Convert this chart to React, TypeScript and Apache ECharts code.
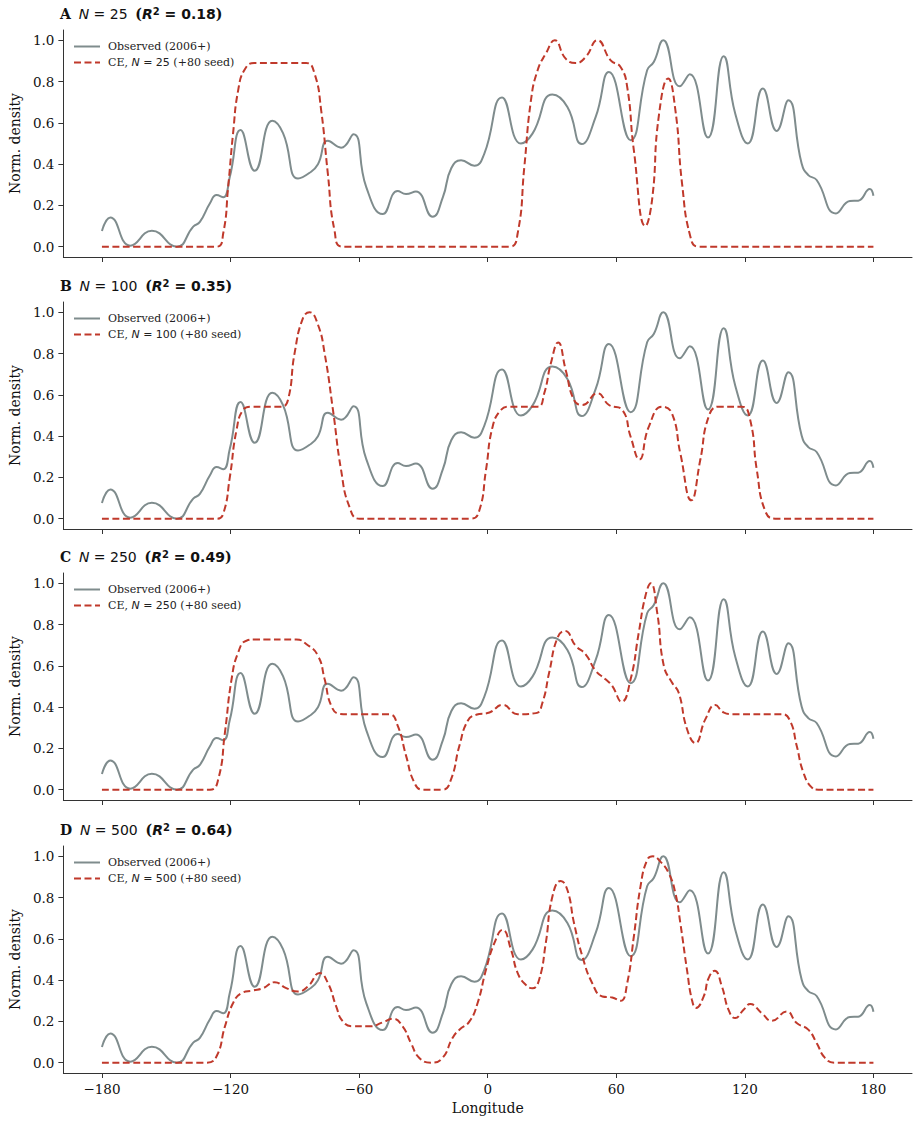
import React, { useEffect, useRef } from "react";
import * as echarts from "echarts";

// Observed normalized density (2006+), [longitude, value]
const OBSERVED: [number, number][] = [
  [-180, 0.076], [-176.1, 0.142], [-166.8, 0.005], [-156.7, 0.077], [-145.1, 0.0],
  [-137.4, 0.097], [-134.3, 0.12], [-129.6, 0.21], [-126.5, 0.25], [-123.4, 0.24],
  [-120.3, 0.34], [-115.3, 0.565], [-108.7, 0.368], [-100.5, 0.61], [-95.5, 0.55],
  [-88.5, 0.33], [-83.1, 0.358], [-79.2, 0.4], [-74.6, 0.513], [-68.4, 0.48],
  [-62.6, 0.545], [-56.7, 0.29], [-49.0, 0.158], [-42.0, 0.27], [-38.1, 0.255],
  [-33.5, 0.268], [-25.7, 0.145], [-20.9, 0.24], [-17.0, 0.38], [-12.4, 0.419],
  [-6.2, 0.392], [-1.6, 0.45], [6.7, 0.723], [15.5, 0.5], [20.9, 0.548],
  [30.2, 0.737], [37.2, 0.677], [43.9, 0.497], [50.4, 0.629], [56.6, 0.847],
  [66.7, 0.516], [74.4, 0.855], [77.5, 0.895], [81.9, 1.0], [89.6, 0.777],
  [94.3, 0.835], [102.8, 0.529], [110.1, 0.923], [115.5, 0.645], [121.4, 0.5],
  [128.4, 0.766], [134.9, 0.561], [140.3, 0.71], [146.5, 0.403], [149.6, 0.347],
  [153.5, 0.323], [162.5, 0.161], [169.0, 0.221], [172.9, 0.223], [178.3, 0.279],
  [180, 0.247],
];

const CE_N25: [number, number][] = [
  [-180, 0], [-126.5, 0], [-123.4, 0.065], [-121.1, 0.29], [-118.8, 0.55],
  [-116.4, 0.76], [-113.3, 0.86], [-109, 0.89], [-84.7, 0.89], [-80.8, 0.839],
  [-77.7, 0.661], [-74.6, 0.355], [-71.5, 0.08], [-67.6, 0], [10.1, 0],
  [14.0, 0.065], [17.1, 0.387], [20.2, 0.71], [23.3, 0.855], [27.1, 0.935],
  [31.3, 1.0], [36.4, 0.911], [41.1, 0.89], [45.7, 0.919], [51.2, 1.0],
  [57.4, 0.903], [62.0, 0.871], [65.1, 0.774], [68.2, 0.468], [73.6, 0.1],
  [76.7, 0.226], [79.8, 0.629], [84.2, 0.815], [87.6, 0.661], [90.7, 0.306],
  [94.6, 0.048], [98.4, 0], [180, 0],
];

const CE_N100: [number, number][] = [
  [-180, 0], [-126.5, 0], [-123.4, 0.024], [-120.3, 0.203], [-117.2, 0.43],
  [-114.1, 0.527], [-110.2, 0.543], [-96.3, 0.543], [-93.2, 0.575], [-90.1, 0.802],
  [-86.2, 0.972], [-83.1, 1.0], [-79.2, 0.94], [-76.1, 0.802], [-72.2, 0.527],
  [-68.4, 0.235], [-64.5, 0.057], [-59.8, 0], [-7.8, 0], [-3.9, 0.04],
  [-0.8, 0.235], [2.3, 0.446], [6.2, 0.527], [10.1, 0.543], [23.3, 0.543],
  [26.4, 0.608], [29.5, 0.754], [32.9, 0.854], [36.4, 0.721], [40.3, 0.575],
  [44.2, 0.551], [51.2, 0.608], [56.6, 0.551], [62.8, 0.527], [66.7, 0.397],
  [70.8, 0.287], [75.2, 0.446], [81.4, 0.543], [86.0, 0.51], [89.9, 0.316],
  [95.0, 0.089], [99.2, 0.284], [103.1, 0.494], [107.8, 0.543], [118.6, 0.543],
  [122.5, 0.478], [125.6, 0.235], [129.4, 0.04], [134.1, 0], [180, 0],
];

const CE_N250: [number, number][] = [
  [-180, 0], [-129.6, 0], [-125.7, 0.052], [-122.6, 0.278], [-119.5, 0.536],
  [-116.4, 0.666], [-112.6, 0.722], [-108, 0.728], [-89.3, 0.728], [-84.7, 0.706],
  [-79.2, 0.649], [-76.1, 0.536], [-73.0, 0.407], [-69.1, 0.367], [-65, 0.365],
  [-45.9, 0.365], [-42.0, 0.31], [-38.1, 0.165], [-34.3, 0.036], [-30.4, 0],
  [-21, 0], [-17.1, 0.05], [-13.2, 0.213], [-9.3, 0.334], [-5.4, 0.363],
  [0.8, 0.374], [7.0, 0.411], [14.0, 0.366], [22.5, 0.371], [25.6, 0.423],
  [28.7, 0.568], [32.6, 0.737], [36.1, 0.769], [41.1, 0.697], [45.7, 0.656],
  [50.4, 0.576], [55.0, 0.535], [58.1, 0.503], [62.5, 0.426], [66.7, 0.535],
  [70.5, 0.761], [73.6, 0.939], [76.1, 1.0], [79.1, 0.858], [82.2, 0.6],
  [86.0, 0.519], [89.1, 0.471], [93.0, 0.294], [96.9, 0.226], [101.6, 0.342],
  [106.2, 0.41], [110, 0.375], [114.0, 0.366], [137.2, 0.366], [141.1, 0.334],
  [144.2, 0.213], [147.3, 0.084], [151.2, 0.011], [154.3, 0], [180, 0],
];

const CE_N500: [number, number][] = [
  [-180, 0], [-131.2, 0], [-126.5, 0.031], [-122.6, 0.176], [-118.8, 0.289],
  [-114.9, 0.337], [-109.5, 0.35], [-104.8, 0.361], [-99.4, 0.39], [-94.0, 0.361],
  [-88.5, 0.345], [-83.9, 0.369], [-78.4, 0.434], [-74.5, 0.385], [-70.7, 0.273],
  [-67.6, 0.2], [-62.9, 0.176], [-55.2, 0.176], [-49.0, 0.195], [-44.3, 0.213],
  [-39.7, 0.176], [-35.8, 0.095], [-31.9, 0.023], [-26.5, 0], [-21.1, 0.023],
  [-16.4, 0.12], [-13.2, 0.16], [-8.5, 0.2], [-4.7, 0.289], [-0.8, 0.45],
  [3.1, 0.579], [7.0, 0.644], [10.9, 0.547], [14.0, 0.434], [17.8, 0.377],
  [20.9, 0.361], [24.0, 0.402], [27.1, 0.579], [30.2, 0.805], [34.1, 0.881],
  [37.2, 0.837], [40.3, 0.676], [44.2, 0.515], [48.8, 0.385], [53.5, 0.321],
  [58.1, 0.316], [62.0, 0.3], [65.1, 0.385], [68.2, 0.611], [71.3, 0.853],
  [74.4, 0.982], [77.1, 1.0], [80.6, 0.974], [84.5, 0.918], [87.6, 0.821],
  [89.9, 0.676], [93.0, 0.45], [95.3, 0.305], [97.2, 0.265], [100.8, 0.321],
  [103.1, 0.41], [105.9, 0.445], [109.3, 0.369], [112.4, 0.256], [115.5, 0.216],
  [119.4, 0.256], [122.5, 0.284], [127.9, 0.24], [132.6, 0.203], [139.5, 0.248],
  [144.2, 0.192], [149.6, 0.16], [153.5, 0.095], [157.4, 0.023], [162.0, 0],
  [180, 0],
];

const PANEL_LETTERS = ["A", "B", "C", "D"];
const PANEL_N = [25, 100, 250, 500];
const PANEL_R2 = ["0.18", "0.35", "0.49", "0.64"];
const CE_SERIES = [CE_N25, CE_N100, CE_N250, CE_N500];

const X_TICKS = [-180, -120, -60, 0, 60, 120, 180];
const Y_TICKS = [0, 0.2, 0.4, 0.6, 0.8, 1.0];

const OBS_NAME = "Observed (2006+)";
const SERIF = "DejaVu Serif";
const SANS = "DejaVu Sans";
const GRAY = "#7f8c8d";
const RED = "#c0392b";
const AXIS = "#333333";

const GRID_TOPS = [30, 302, 573, 846];
const GRID_H = 227;

export default function App() {
  const ref = useRef<HTMLDivElement>(null);
  useEffect(() => {
    const chart = echarts.init(ref.current!, null, { renderer: "svg" });
    const ceName = (n: number) => `CE, N = ${n} (+80 seed)`;

    const grids = GRID_TOPS.map((t) => ({ left: 60, right: 6, top: t, height: GRID_H }));

    const xAxes = GRID_TOPS.map((_, i) => ({
      type: "value",
      gridIndex: i,
      min: -198,
      max: 198,
      name: i === 3 ? "Longitude" : "",
      nameLocation: "middle",
      nameGap: 28,
      nameTextStyle: { fontFamily: SERIF, fontSize: 14, color: "#111" },
      axisLine: { show: true, onZero: false, lineStyle: { color: AXIS, width: 1 } },
      axisTick: { show: true, length: 5, customValues: X_TICKS, lineStyle: { color: AXIS } },
      axisLabel: {
        show: i === 3,
        customValues: X_TICKS,
        margin: 9,
        fontFamily: SERIF,
        fontSize: 13.5,
        color: "#111",
        formatter: (v: number) => (v < 0 ? "\u2212" + Math.abs(v) : String(v)),
      },
      splitLine: { show: false },
    }));

    const yAxes = GRID_TOPS.map((_, i) => ({
      type: "value",
      gridIndex: i,
      min: -0.05,
      max: 1.05,
      name: "Norm. density",
      nameLocation: "middle",
      nameGap: 39,
      nameTextStyle: { fontFamily: SERIF, fontSize: 14, color: "#111" },
      axisLine: { show: true, onZero: false, lineStyle: { color: AXIS, width: 1 } },
      axisTick: { show: true, length: 5, customValues: Y_TICKS, lineStyle: { color: AXIS } },
      axisLabel: {
        customValues: Y_TICKS,
        margin: 9,
        fontFamily: SERIF,
        fontSize: 13.5,
        color: "#111",
        formatter: (v: number) => v.toFixed(1),
      },
      splitLine: { show: false },
    }));

    const series: any[] = [];
    GRID_TOPS.forEach((_, i) => {
      series.push({
        type: "line",
        name: OBS_NAME,
        xAxisIndex: i,
        yAxisIndex: i,
        data: OBSERVED,
        smooth: 0.5,
        symbol: "none",
        lineStyle: { color: GRAY, width: 2 },
        itemStyle: { color: GRAY },
        z: 2,
      });
      series.push({
        type: "line",
        name: ceName(PANEL_N[i]),
        xAxisIndex: i,
        yAxisIndex: i,
        data: CE_SERIES[i],
        smooth: 0.5,
        symbol: "none",
        lineStyle: { color: RED, width: 2, type: [7, 3.5] },
        itemStyle: { color: RED },
        z: 3,
      });
    });

    const legendRich = {
      t: { fontFamily: SERIF, fontSize: 11, color: "#222" },
      i: { fontFamily: SANS, fontSize: 11, fontStyle: "italic", color: "#222" },
      m: { fontFamily: SANS, fontSize: 11, color: "#222" },
    };

    const legends = GRID_TOPS.map((t, i) => ({
      orient: "vertical",
      left: 68,
      top: t + 6,
      itemWidth: 26,
      itemHeight: 12,
      itemGap: 5,
      selectedMode: false,
      itemStyle: { opacity: 0, borderWidth: 0 },
      data: [OBS_NAME, ceName(PANEL_N[i])],
      formatter: (name: string) =>
        name === OBS_NAME
          ? `{t|${OBS_NAME}}`
          : `{t|CE, }{i|N}{m| = ${PANEL_N[i]}}{t| (+80 seed)}`,
      textStyle: { fontFamily: SERIF, fontSize: 11, color: "#222", rich: legendRich, padding: [0, 0, 0, 3] },
    }));

    const titleRich = {
      b: { fontFamily: SERIF, fontSize: 14, fontWeight: "bold", color: "#111" },
      i: { fontFamily: SANS, fontSize: 14, fontStyle: "italic", fontWeight: "normal", color: "#111" },
      s: { fontFamily: SANS, fontSize: 14, fontWeight: "normal", color: "#111" },
      bi: { fontFamily: SANS, fontSize: 14, fontStyle: "italic", fontWeight: "bold", color: "#111" },
      bs: { fontFamily: SANS, fontSize: 14, fontWeight: "bold", color: "#111" },
      sup: { fontFamily: SANS, fontSize: 10, fontWeight: "bold", color: "#111", verticalAlign: "top", padding: [0, 0, 6, 0] },
    };

    const titles = GRID_TOPS.map((t, i) => ({
      left: 60,
      top: t - 24,
      padding: 0,
      text: `{b|${PANEL_LETTERS[i]}}  {i|N}{s| = ${PANEL_N[i]}}  {b|(}{bi|R}{sup|2}{bs| = ${PANEL_R2[i]}}{b|)}`,
      textStyle: { rich: titleRich, fontSize: 14, fontWeight: "normal" },
    }));

    chart.setOption({
      animation: false,
      backgroundColor: "#ffffff",
      title: titles,
      legend: legends,
      grid: grids,
      xAxis: xAxes,
      yAxis: yAxes,
      series,
    });
    return () => chart.dispose();
  }, []);
  return (
    <div
      ref={ref}
      style={{ position: "fixed", left: 0, top: 0, width: 918, height: 1124, background: "#fff" }}
    />
  );
}
